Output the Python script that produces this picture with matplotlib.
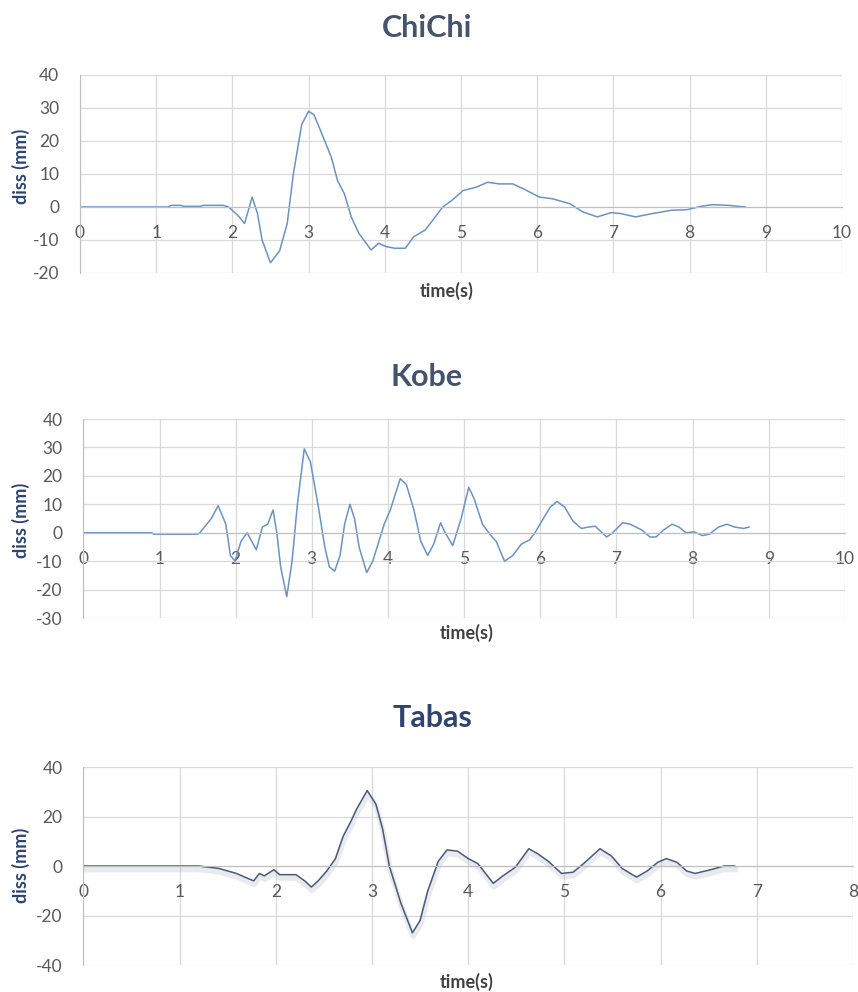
import matplotlib
matplotlib.use("Agg")
import matplotlib.pyplot as plt
import matplotlib.patheffects as pe

plt.rcParams['font.family'] = ['Lato', 'DejaVu Sans']
plt.rcParams['axes.unicode_minus'] = False

# ChiChi displacement record (time s, disp mm)
chichi_t = [0, 1.15, 1.2, 1.32, 1.36, 1.58, 1.62, 1.88, 1.95, 2.08, 2.16, 2.26, 2.33, 2.39,
            2.5, 2.62, 2.72, 2.8, 2.91, 3.0, 3.07, 3.16, 3.3, 3.38, 3.47, 3.56, 3.66, 3.82,
            3.92, 4.02, 4.13, 4.27, 4.38, 4.53, 4.63, 4.76, 4.88, 5.03, 5.2, 5.35, 5.5,
            5.68, 5.82, 6.03, 6.2, 6.43, 6.6, 6.79, 6.97, 7.1, 7.29, 7.51, 7.76, 7.97,
            8.15, 8.3, 8.51, 8.73]
chichi_d = [0, 0, 0.5, 0.5, 0.2, 0.2, 0.5, 0.5, 0, -2.7, -5, 3, -2, -10,
            -16.9, -13.3, -5, 10, 25, 29, 28, 23, 15, 8, 4, -3, -8, -13,
            -11, -12, -12.5, -12.5, -9, -7, -4, 0, 2, 5, 6, 7.5, 7,
            7, 5.5, 3, 2.5, 1, -1.5, -3, -1.7, -2, -3, -2, -1, -0.8,
            0.2, 0.7, 0.5, 0]

# Kobe displacement record
kobe_t = [0, 0.9, 0.92, 1.5, 1.53, 1.68, 1.77, 1.87, 1.93, 1.99, 2.07, 2.15, 2.21, 2.27,
          2.35, 2.42, 2.49, 2.54, 2.59, 2.67, 2.74, 2.81, 2.9, 2.98, 3.08, 3.17, 3.23,
          3.3, 3.37, 3.43, 3.5, 3.56, 3.62, 3.72, 3.8, 3.88, 3.95, 4.03, 4.16, 4.24,
          4.34, 4.43, 4.52, 4.6, 4.69, 4.75, 4.85, 4.96, 5.06, 5.13, 5.24, 5.35, 5.42,
          5.53, 5.64, 5.75, 5.86, 5.93, 6.04, 6.13, 6.22, 6.32, 6.43, 6.54, 6.63, 6.72,
          6.87, 6.95, 7.08, 7.18, 7.33, 7.44, 7.52, 7.62, 7.73, 7.82, 7.91, 8.02, 8.13,
          8.22, 8.34, 8.45, 8.55, 8.67, 8.74]
kobe_d = [0, 0, -0.5, -0.5, 0, 5, 9.5, 3, -8, -10, -3, 0, -3, -6,
          2, 3, 8, 0, -12, -22.5, -10, 10, 29.5, 25, 10, -5, -12,
          -13.5, -8, 3, 10, 5, -5, -14, -10, -3, 3, 8, 19, 17,
          8, -3, -8, -4, 3.5, 0, -4.5, 5, 16, 12, 3, -1, -3,
          -10, -8, -4, -2.5, 0, 5, 9, 11, 9, 4, 1.5, 2, 2.3,
          -1.5, 0, 3.5, 3, 1, -1.5, -1.5, 1, 3, 2, 0, 0.3, -1,
          -0.5, 2, 3, 2, 1.5, 2]

# Tabas displacement record
tabas_t = [0, 1.2, 1.41, 1.59, 1.77, 1.83, 1.88, 1.98, 2.04, 2.21, 2.3, 2.37, 2.44, 2.53,
           2.62, 2.7, 2.78, 2.84, 2.95, 3.04, 3.11, 3.18, 3.3, 3.42, 3.5, 3.58, 3.69,
           3.78, 3.89, 4.0, 4.1, 4.26, 4.36, 4.49, 4.63, 4.72, 4.83, 4.97, 5.09, 5.2,
           5.37, 5.49, 5.6, 5.75, 5.86, 5.97, 6.06, 6.17, 6.27, 6.36, 6.52, 6.66, 6.77]
tabas_d = [0, 0, -1, -3, -6, -3, -4, -1.5, -3.5, -3.5, -6, -8.5, -6, -2,
           3, 12, 18, 23, 30.5, 25, 15, 0, -15, -27, -22, -10, 2,
           6.5, 6, 3, 1, -7, -4, -0.5, 7, 5, 2, -3, -2.5, 1,
           7, 4, -1, -4.5, -2, 1.5, 3, 1.5, -2, -3, -1.5, 0, 0]

GRID = '#d9d9d9'
TICK = '#595959'


def style(ax, xmax, ymin, ymax, ystep):
    ax.set_xlim(0, xmax)
    ax.set_ylim(ymin, ymax)
    ax.set_xticks(range(0, xmax + 1))
    ax.set_yticks(range(ymin, ymax + 1, ystep))
    ax.grid(True, color=GRID, lw=0.9)
    ax.set_axisbelow(True)
    for s in ('top', 'right'):
        ax.spines[s].set_visible(False)
    ax.spines['bottom'].set_position(('data', 0))
    ax.spines['bottom'].set_color('#bfbfbf')
    ax.spines['left'].set_color('#bfbfbf')
    ax.tick_params(axis='both', length=0, labelsize=12.5, labelcolor=TICK)
    ax.tick_params(axis='x', pad=13)
    ax.tick_params(axis='y', pad=15)


fig = plt.figure(figsize=(8.58, 9.92), dpi=100)

ax1 = fig.add_axes([0.0932, 0.7248, 0.8881, 0.1996])
ax1.plot(chichi_t, chichi_d, color='#6b93c2', lw=1.1)
style(ax1, 10, -20, 40, 10)

ax2 = fig.add_axes([0.0972, 0.377, 0.8876, 0.2006])
ax2.plot(kobe_t, kobe_d, color='#6b93c2', lw=1.1)
style(ax2, 10, -30, 40, 10)

ax3 = fig.add_axes([0.0972, 0.0272, 0.897, 0.1996])
ax3.plot(tabas_t, tabas_d, color='#4a5a78', lw=1.1,
         path_effects=[pe.SimpleLineShadow(offset=(0.5, -2.5), shadow_color='#9aa3b0',
                                           alpha=0.22, linewidth=4),
                       pe.Normal()])
style(ax3, 8, -40, 40, 20)

H = 992.0
W = 858.0
fig.text(427 / W, 1 - 28 / H, 'ChiChi', ha='center', va='center',
         fontsize=22, fontweight='bold', color='#44546a')
fig.text(427 / W, 1 - 377 / H, 'Kobe', ha='center', va='center',
         fontsize=22, fontweight='bold', color='#44546a')
fig.text(432 / W, 1 - 718 / H, 'Tabas', ha='center', va='center',
         fontsize=22, fontweight='bold', color='#2f4470')

for x, y in ((447, 291), (467, 633), (467, 982)):
    fig.text(x / W, 1 - y / H, 'time(s)', ha='center', va='center',
             fontsize=13, fontweight='bold', color='#404040')
for y in (166, 520, 865):
    fig.text(21 / W, 1 - y / H, 'diss (mm)', ha='center', va='center', rotation=90,
             fontsize=13, fontweight='bold', color='#2f4470')

fig.savefig('out.png', dpi=100)
